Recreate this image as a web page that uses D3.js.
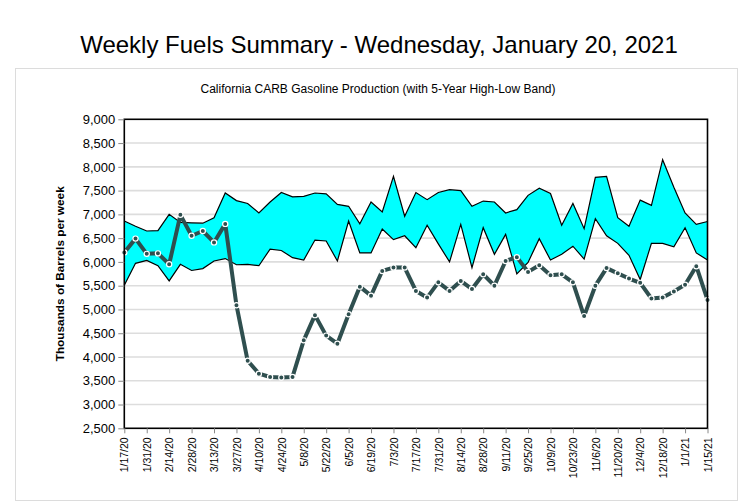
<!DOCTYPE html>
<html>
<head>
<meta charset="utf-8">
<script src="https://cdn.jsdelivr.net/npm/d3@7"></script>
<style>
html,body{margin:0;padding:0;background:#fff;}
svg{display:block;font-family:"Liberation Sans",Arial,sans-serif;}
</style>
</head>
<body>
<svg id="chart" width="754" height="504"></svg>
<script>
const weeks = ["1/17/20","1/24/20","1/31/20","2/7/20","2/14/20","2/21/20","2/28/20","3/6/20","3/13/20","3/20/20",
"3/27/20","4/3/20","4/10/20","4/17/20","4/24/20","5/1/20","5/8/20","5/15/20","5/22/20","5/29/20",
"6/5/20","6/12/20","6/19/20","6/26/20","7/3/20","7/10/20","7/17/20","7/24/20","7/31/20","8/7/20",
"8/14/20","8/21/20","8/28/20","9/4/20","9/11/20","9/18/20","9/25/20","10/2/20","10/9/20","10/16/20",
"10/23/20","10/30/20","11/6/20","11/13/20","11/20/20","11/27/20","12/4/20","12/11/20","12/18/20","12/25/20",
"1/1/21","1/8/21","1/15/21"];

const production = [6200,6490,6170,6180,5950,6990,6550,6650,6410,6800,
5090,3920,3650,3580,3570,3580,4350,4880,4450,4280,
4900,5480,5290,5810,5880,5880,5390,5250,5570,5390,
5600,5430,5740,5500,6020,6100,5790,5930,5720,5740,
5570,4860,5500,5870,5760,5650,5560,5230,5250,5380,
5520,5910,5200];

const bandHigh = [6860,6750,6650,6660,7000,6830,6820,6815,6930,7450,
7290,7230,7030,7260,7460,7370,7380,7450,7430,7210,
7170,6800,7260,7050,7800,6960,7460,7310,7460,7520,
7500,7170,7280,7260,7030,7100,7400,7550,7440,6770,
7230,6700,7780,7800,6930,6750,7300,7190,8150,7570,
7030,6790,6850];

const bandLow = [5510,5970,6030,5920,5600,5950,5820,5860,6020,6070,
5940,5950,5920,6270,6240,6090,6040,6460,6440,6020,
6860,6190,6190,6690,6470,6550,6300,6770,6380,6000,
6790,5880,6720,6160,6580,5750,5990,6490,6040,6160,
6330,6060,6910,6550,6390,6140,5630,6390,6390,6320,
6720,6190,6040];

const yTicks = [2500,3000,3500,4000,4500,5000,5500,6000,6500,7000,7500,8000,8500,9000];
const xTickLabels = weeks.filter((d,i)=>i%2===0);

const titleText = "Weekly Fuels Summary - Wednesday, January 20, 2021";
const subtitleText = "California CARB Gasoline Production (with 5-Year High-Low Band)";
const yTitle = "Thousands of Barrels per week";

const svg = d3.select("#chart");
const m = {left:124.3, right:707.5, top:119.3, bottom:428.3};

const x = d3.scalePoint().domain(weeks).range([m.left, m.right]);
const y = d3.scaleLinear().domain([2500,9000]).range([m.bottom, m.top]);

// title
svg.append("text").attr("x",379).attr("y",53).attr("text-anchor","middle")
  .attr("font-size",24).attr("fill","#000").text(titleText);

// outer box
svg.append("rect").attr("x",15.5).attr("y",68.5).attr("width",722).attr("height",432)
  .attr("fill","none").attr("stroke","#dcdcdc").attr("stroke-width",1);

svg.append("text").attr("x",378).attr("y",92.5).attr("text-anchor","middle")
  .attr("font-size",12).attr("fill","#000").text(subtitleText);

// grid
svg.append("g").selectAll("line").data(yTicks.slice(1,-1)).join("line")
  .attr("x1",m.left).attr("x2",m.right).attr("y1",d=>y(d)).attr("y2",d=>y(d))
  .attr("stroke","#dddddd").attr("stroke-width",1.6);

// band
const area = d3.area().x((d,i)=>x(weeks[i])).y0((d,i)=>y(bandLow[i])).y1((d,i)=>y(bandHigh[i]));
svg.append("path").datum(weeks).attr("d",area).attr("fill","#00FFFF").attr("stroke","none");
const hiLine = d3.line().x((d,i)=>x(weeks[i])).y(d=>y(d));
svg.append("path").datum(bandHigh).attr("d",hiLine).attr("fill","none").attr("stroke","#000").attr("stroke-width",1.2);
svg.append("path").datum(bandLow).attr("d",hiLine).attr("fill","none").attr("stroke","#000").attr("stroke-width",1.2);

// production line
svg.append("path").datum(production).attr("d",hiLine).attr("fill","none")
  .attr("stroke","#2F4F4F").attr("stroke-width",4).attr("stroke-linejoin","round");
svg.append("g").selectAll("circle").data(production).join("circle")
  .attr("cx",(d,i)=>x(weeks[i])).attr("cy",d=>y(d)).attr("r",2.6)
  .attr("fill","#2F4F4F").attr("stroke","#fff").attr("stroke-width",1.2);

// plot border
svg.append("rect").attr("x",m.left).attr("y",m.top).attr("width",m.right-m.left).attr("height",m.bottom-m.top)
  .attr("fill","none").attr("stroke","#000").attr("stroke-width",1.6);

// y axis
const yAxis = d3.axisLeft(y).tickValues(yTicks).tickFormat(d3.format(",")).tickSize(6).tickPadding(3);
const gy = svg.append("g").attr("transform",`translate(${m.left},0)`).call(yAxis);
gy.select(".domain").remove();
gy.selectAll(".tick line").attr("stroke","#888");
gy.selectAll(".tick text").attr("font-size",13).attr("font-family","Liberation Sans, Arial, sans-serif").attr("fill","#000");

// x axis
const xAxis = d3.axisBottom(x).tickValues(xTickLabels).tickSize(5).tickPadding(4);
const gx = svg.append("g").attr("transform",`translate(0,${m.bottom})`).call(xAxis);
gx.select(".domain").remove();
gx.selectAll(".tick line").attr("stroke","#888");
gx.selectAll(".tick text").attr("font-size",10.5).attr("font-family","Liberation Sans, Arial, sans-serif").attr("fill","#000")
  .attr("text-anchor","end").attr("transform","rotate(-90)").attr("dy","0.35em").attr("x",-9).attr("y",0);

// y title
svg.append("text").attr("transform",`translate(64,${(m.top+m.bottom)/2}) rotate(-90)`)
  .attr("text-anchor","middle").attr("font-size",11.8).attr("font-weight","bold").attr("fill","#000").text(yTitle);
</script>
</body>
</html>
